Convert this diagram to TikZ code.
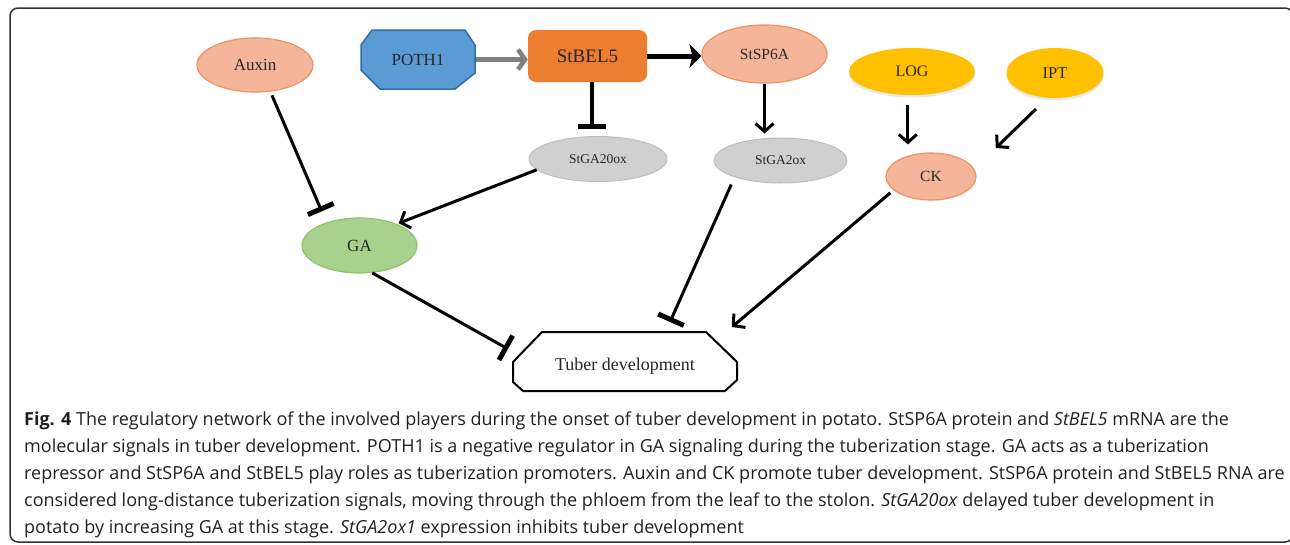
\documentclass[tikz,border=0pt]{standalone}
\usepackage{fontspec}
\setmainfont{Liberation Serif}
\newfontfamily\capfont{Open Sans}
\usepackage{tikz}
\usetikzlibrary{arrows.meta, positioning, calc, shapes.geometric, shadows, backgrounds}
\definecolor{salmonfill}{HTML}{F4B59B}
\definecolor{salmonline}{HTML}{F0915F}
\definecolor{greyfill}{HTML}{D0D0D0}
\definecolor{greyline}{HTML}{BDBDBD}
\definecolor{goldfill}{HTML}{FFC000}
\definecolor{gafill}{HTML}{A9D18E}
\definecolor{galine}{HTML}{8DC26F}
\definecolor{pothfill}{HTML}{5B9BD5}
\definecolor{pothline}{HTML}{2F6CA8}
\definecolor{belfill}{HTML}{ED7D31}
\definecolor{arrowgrey}{HTML}{808080}
\definecolor{captext}{HTML}{231F20}

\begin{document}
\begin{tikzpicture}[x=1pt,y=-1pt,
	every node/.style={text=black!85},
	salmon/.style={ellipse, draw=salmonline, fill=salmonfill, line width=1.2pt, inner sep=0pt},
	greybub/.style={ellipse, draw=greyline, fill=greyfill, line width=1pt, inner sep=0pt, font=\fontsize{13.5}{15}\selectfont},
	goldbub/.style={ellipse, fill=goldfill, inner sep=0pt, drop shadow={shadow xshift=0pt, shadow yshift=-2.5pt, opacity=0.18}},
	act/.style={-{Straight Barb[length=8pt,width=18pt]}, line width=3pt},
	inh/.style={-{Bar[width=28pt,line width'=5pt]}, line width=3pt},
	capline/.style={anchor=base west, inner sep=0pt, text=captext, font=\capfont\fontsize{18}{20}\selectfont}]
	
	\useasboundingbox (0,0) rectangle (1290,544);
	\draw[line width=1.5pt, draw=black!80, rounded corners=8pt] (10,8) rectangle (1293,542); % frame
	
	\node[salmon, minimum width=116pt, minimum height=54pt, font=\fontsize{17}{20}\selectfont] (auxin) at (255,65) {Auxin};
	\node[minimum width=115pt, minimum height=59pt, font=\fontsize{17}{20}\selectfont] (poth) at (418,59.5) {POTH1};
	\node[fill=belfill, rounded corners=8pt, minimum width=119pt, minimum height=52pt, font=\fontsize{19}{22}\selectfont] (stbel) at (587.5,56) {StBEL5};
	\node[salmon, minimum width=125pt, minimum height=58pt, font=\fontsize{15.5}{18}\selectfont] (stsp) at (764.5,54) {StSP6A};
	\node[goldbub, minimum width=126pt, minimum height=47pt, font=\fontsize{16}{19}\selectfont] (log) at (912,71.5) {LOG};
	\node[goldbub, minimum width=97pt, minimum height=50pt, font=\fontsize{16.5}{19}\selectfont] (ipt) at (1055,73) {IPT};
	\node[greybub, minimum width=138pt, minimum height=45pt] (stga20) at (598,159) {StGA20ox};
	\node[greybub, minimum width=133pt, minimum height=45pt] (stga2) at (780.5,160.5) {StGA2ox};
	\node[salmon, minimum width=90pt, minimum height=47pt, font=\fontsize{15.5}{18}\selectfont] (ck) at (931,176.5) {CK};
	\node[ellipse, draw=galine, fill=gafill, line width=1.2pt, minimum width=115pt, minimum height=55pt, font=\fontsize{17}{20}\selectfont] (ga) at (359.5,245.5) {GA};
	\node[minimum width=224pt, minimum height=59pt, font=\fontsize{18}{21}\selectfont] (tuber) at (625,366) {Tuber development};
	
	% octagon outlines behind the texts
	\begin{scope}[on background layer]
		\draw[fill=pothfill, draw=pothline, line width=1.5pt, shift={(poth.center)}] (-46,-29.5) -- (47,-29.5) -- (57,-14.5) -- (57,13.5) -- (37,29.5) -- (-38,29.5) -- (-57,10.5) -- (-57,-14.5) -- cycle;
		\draw[fill=white, line width=2pt, shift={(tuber.center)}] (-83,-34) -- (81,-34) -- (112,-4) -- (112,14) -- (100,25) -- (-102,25) -- (-112,16) -- (-112,-4) -- cycle;
	\end{scope}
	
	\draw[draw=arrowgrey, line width=4.5pt, -{Straight Barb[length=7pt,width=20pt]}] (poth.east) -- (poth.east -| stbel.west);
	\draw[line width=5pt, -{Stealth[length=12pt,width=24pt,inset=3pt]}] (stbel.east) -- (stbel.east -| stsp.west);
	\draw[inh, line width=4pt, shorten >=7pt] (stbel.-80) -- (stbel.-80 |- stga20.north);
	\draw[act, shorten >=4pt] (stsp.south) -- (stsp.south |- stga2.north);
	\draw[act, shorten <=10pt, shorten >=8pt] (log.-100) -- (log.-100 |- ck.north);
	\draw[act, shorten <=16pt, shorten >=30pt] (ipt.-107) -- (ck.10);
	\draw[inh, shorten <=4pt, shorten >=12pt] (auxin.-60) -- (ga.145);
	\draw[act, shorten >=2pt] (stga20.190) -- (ga.30);
	\draw[inh] (ga.-65) -- ($(tuber)+(-117,-17)$);
	\draw[inh, shorten <=8pt] (stga2.-160) -- ($(tuber)+(45,-44)$);
	\draw[act, shorten <=4pt] (ck.-160) -- ($(tuber)+(107,-39)$);
	
	\node[capline] (cap1) at (24,425) {\textbf{Fig. 4} The regulatory network of the involved players during the onset of tuber development in potato. StSP6A protein and \textit{StBEL5} mRNA are the};
	\node[capline] (cap2) at (24,452) {molecular signals in tuber development. POTH1 is a negative regulator in GA signaling during the tuberization stage. GA acts as a tuberization};
	\node[capline] (cap3) at (24,479) {repressor and StSP6A and StBEL5 play roles as tuberization promoters. Auxin and CK promote tuber development. StSP6A protein and StBEL5 RNA are};
	\node[capline] (cap4) at (24,506) {considered long-distance tuberization signals, moving through the phloem from the leaf to the stolon. \textit{StGA20ox} delayed tuber development in};
	\node[capline] (cap5) at (24,533) {potato by increasing GA at this stage. \textit{StGA2ox1} expression inhibits tuber development};
\end{tikzpicture}
\end{document}
